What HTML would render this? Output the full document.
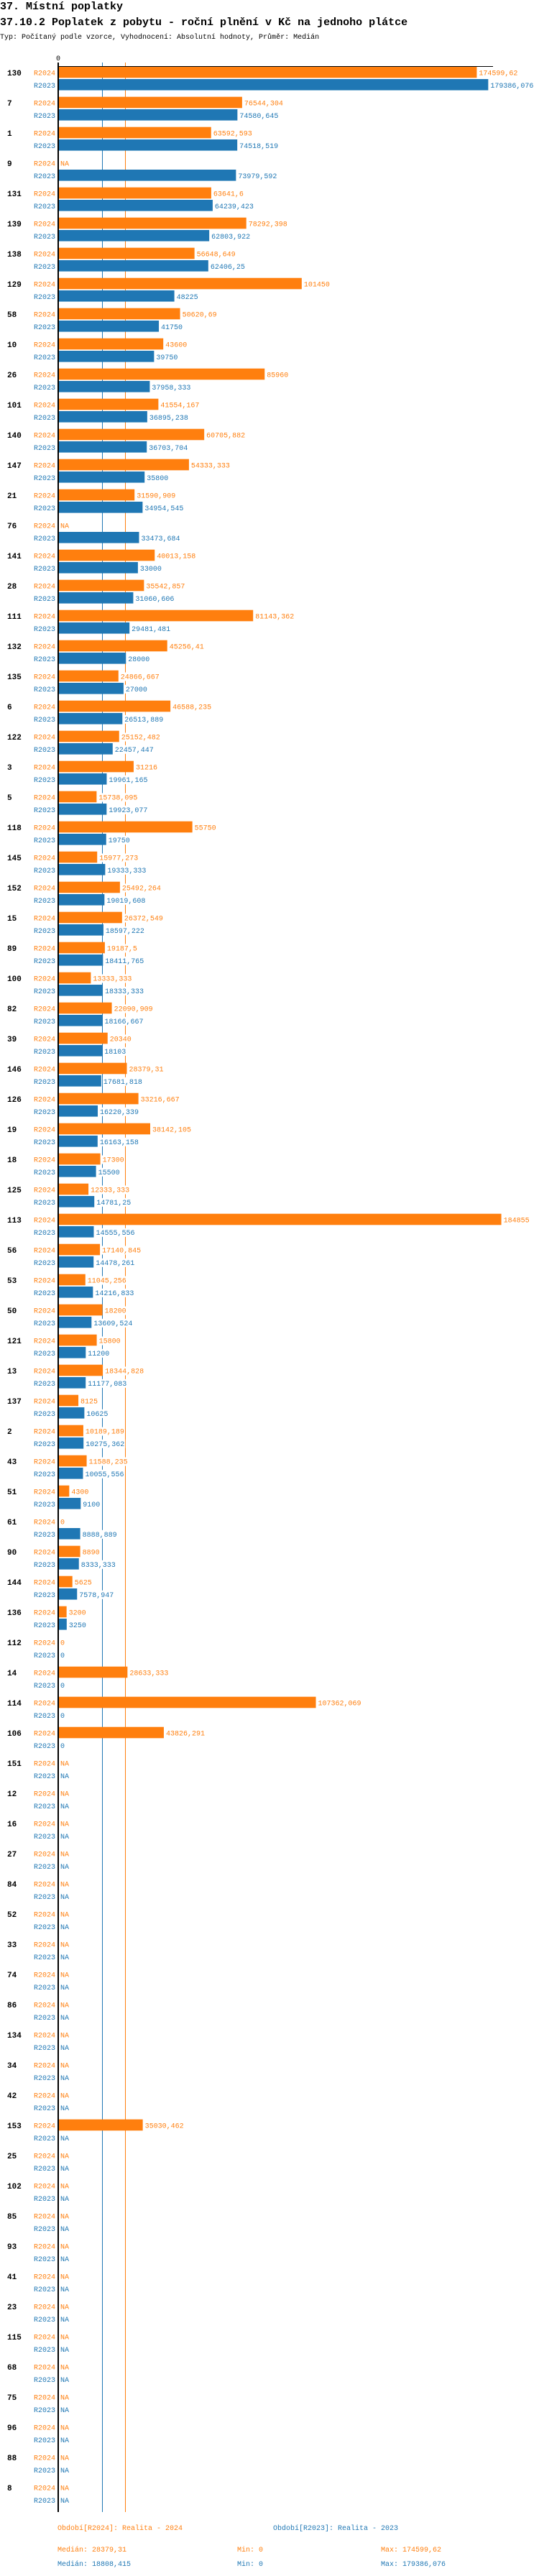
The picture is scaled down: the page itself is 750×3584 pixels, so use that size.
<!DOCTYPE html>
<html><head><meta charset="utf-8"><style>
body{margin:0;background:#fff;width:750px;height:3584px;overflow:hidden}
svg{display:block;font-family:"Liberation Mono","DejaVu Sans Mono",monospace}
</style></head><body>
<svg id="c" width="750" height="3584" xmlns="http://www.w3.org/2000/svg">
<text x="0" y="13" font-size="15" font-weight="bold">37. Místní poplatky</text>
<text x="0" y="35" font-size="15" font-weight="bold">37.10.2 Poplatek z pobytu - roční plnění v Kč na jednoho plátce</text>
<text x="0" y="54" font-size="10">Typ: Počítaný podle vzorce, Vyhodnocení: Absolutní hodnoty, Průměr: Medián</text>
<text x="81" y="84" font-size="10" text-anchor="middle">0</text>
<g id="g"></g>
<line x1="80" y1="92.5" x2="686" y2="92.5" stroke="#000" stroke-width="1"/>
<rect x="80" y="87" width="2" height="3408" fill="#000"/>
<g font-size="10">
<text x="80" y="3520" fill="#ff7f0e">Období[R2024]: Realita - 2024</text>
<text x="380" y="3520" fill="#1f77b4">Období[R2023]: Realita - 2023</text>
<text x="80" y="3550" fill="#ff7f0e">Medián: 28379,31</text>
<text x="330" y="3550" fill="#ff7f0e">Min: 0</text>
<text x="530" y="3550" fill="#ff7f0e">Max: 174599,62</text>
<text x="80" y="3570" fill="#1f77b4">Medián: 18808,415</text>
<text x="330" y="3570" fill="#1f77b4">Min: 0</text>
<text x="530" y="3570" fill="#1f77b4">Max: 179386,076</text>
</g>
</svg>
<script>
var d=[["130","174599,62","179386,076"],["7","76544,304","74580,645"],["1","63592,593","74518,519"],["9","NA","73979,592"],["131","63641,6","64239,423"],["139","78292,398","62803,922"],["138","56648,649","62406,25"],["129","101450","48225"],["58","50620,69","41750"],["10","43600","39750"],["26","85960","37958,333"],["101","41554,167","36895,238"],["140","60705,882","36703,704"],["147","54333,333","35800"],["21","31590,909","34954,545"],["76","NA","33473,684"],["141","40013,158","33000"],["28","35542,857","31060,606"],["111","81143,362","29481,481"],["132","45256,41","28000"],["135","24866,667","27000"],["6","46588,235","26513,889"],["122","25152,482","22457,447"],["3","31216","19961,165"],["5","15738,095","19923,077"],["118","55750","19750"],["145","15977,273","19333,333"],["152","25492,264","19019,608"],["15","26372,549","18597,222"],["89","19187,5","18411,765"],["100","13333,333","18333,333"],["82","22090,909","18166,667"],["39","20340","18103"],["146","28379,31","17681,818"],["126","33216,667","16220,339"],["19","38142,105","16163,158"],["18","17300","15500"],["125","12333,333","14781,25"],["113","184855","14555,556"],["56","17140,845","14478,261"],["53","11045,256","14216,833"],["50","18200","13609,524"],["121","15800","11200"],["13","18344,828","11177,083"],["137","8125","10625"],["2","10189,189","10275,362"],["43","11588,235","10055,556"],["51","4300","9100"],["61","0","8888,889"],["90","8890","8333,333"],["144","5625","7578,947"],["136","3200","3250"],["112","0","0"],["14","28633,333","0"],["114","107362,069","0"],["106","43826,291","0"]];
["151","12","16","27","84","52","33","74","86","134","34","42","153","25","102","85","93","41","23","115","68","75","96","88","8"].forEach(function(l){d.push([l,l=="153"?"35030,462":"NA","NA"]);});
var s=0.00333,O="#ff7f0e",B="#1f77b4",h='';
h+='<line x1="142.5" y1="87" x2="142.5" y2="3495" stroke="'+B+'" stroke-width="1"/>';
h+='<line x1="174.5" y1="87" x2="174.5" y2="3495" stroke="'+O+'" stroke-width="1"/>';
function lab(x,y,t,c){var w=t.length*6+2;return '<rect x="'+(x-1)+'" y="'+(y-9)+'" width="'+w+'" height="12" fill="#fff"/><text x="'+x+'" y="'+y+'" fill="'+c+'">'+t+'</text>';}
d.forEach(function(r,i){var y0=92.7+42*i;
h+='<text x="10" y="'+(y0+12.5)+'" font-size="11" font-weight="bold">'+r[0]+'</text>';
[[r[1],O,"R2024",y0],[r[2],B,"R2023",y0+17.3]].forEach(function(q){
var ty=q[3]+11.8;h+='<text x="77" y="'+ty+'" fill="'+q[1]+'" text-anchor="end" font-size="10">'+q[2]+'</text>';
if(q[0]=="NA"||q[0]=="0"){h+='<g font-size="10">'+lab(84,ty,q[0],q[1])+'</g>';return;}
var v=parseFloat(q[0].replace(",",".")),w=v*s;
h+='<rect x="82" y="'+q[3]+'" width="'+w+'" height="15.6" fill="'+q[1]+'"/>';
h+='<g font-size="10">'+lab(82+w+3,ty,q[0],q[1])+'</g>';});});
document.getElementById("g").innerHTML=h;
</script>
</body></html>
